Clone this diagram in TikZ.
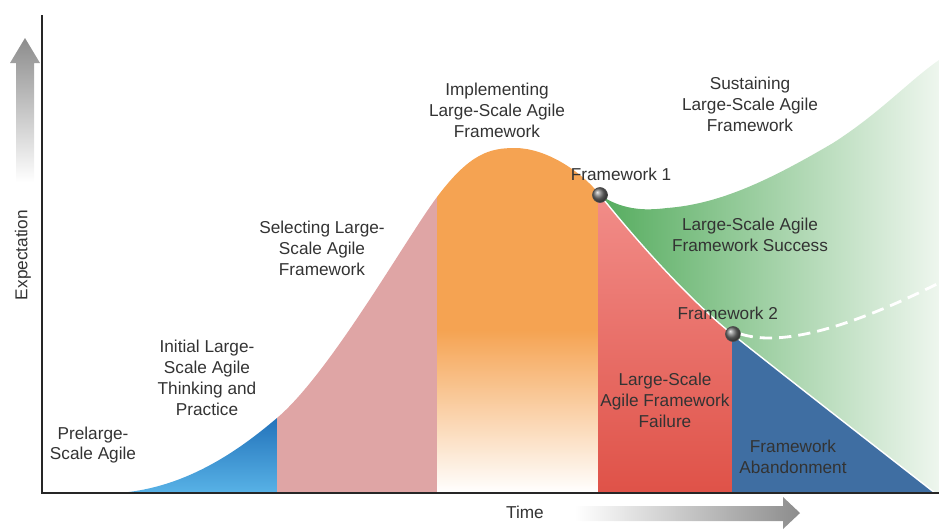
\documentclass[tikz,border=0pt]{standalone}
\usepackage{fontspec}
\setmainfont{Liberation Sans}
\usepackage{tikz}

\definecolor{txtgray}{HTML}{333333}
\definecolor{blueT}{HTML}{1D6CB6}
\definecolor{blueB}{HTML}{58B2E6}
\definecolor{pinkband}{HTML}{DFA5A5}
\definecolor{orangeband}{HTML}{F5A352}
\definecolor{redT}{HTML}{F28E8A}
\definecolor{redB}{HTML}{DF5248}
\definecolor{abandonblue}{HTML}{3F6EA2}
\definecolor{greenL}{HTML}{55AC5E}
\definecolor{greenR}{HTML}{EEF6EE}

\begin{document}
\begin{tikzpicture}
  [x=0.02cm, y=-0.02cm,
   phase/.style={text=txtgray, align=center, font=\fontsize{9.8}{11.9}\selectfont},
   fwdot/.style={circle, minimum size=8.5pt, inner sep=0, ball color=black!55, draw=black!70, thin},
   fwlabel/.style={text=txtgray, font=\fontsize{9.8}{11.9}\selectfont}]
  \useasboundingbox (0,0) rectangle (939,529);

  % bands under the curve
  \begin{scope}
    \clip (118,493) .. controls (190,488) and (245,445) .. (277,418)
      .. controls (330,373) and (405,240) .. (437,197)
      .. controls (470,153) and (490,148) .. (515,148)
      .. controls (545,148) and (580,170) .. (600,195)
      .. controls (640,245) and (690,300) .. (732,334)
      .. controls (800,388) and (880,450) .. (935,493) -- cycle;
    \shade[top color=blueT, bottom color=blueB] (118,410) rectangle (277,493);
    \fill[pinkband] (277,140) rectangle (437,493);
    \fill[orangeband] (437,140) rectangle (598,330);
    \shade[top color=orangeband, bottom color=white] (437,330) rectangle (598,493);
    \shade[top color=redT, bottom color=redB] (598,190) rectangle (732,493);
    \fill[abandonblue] (732,320) rectangle (939,493);
  \end{scope}

  % success region
  \shade[left color=greenL, right color=greenR]
    (600,195) .. controls (625,212) and (650,210) .. (667,208)
    .. controls (720,204) and (770,180) .. (833,143)
    .. controls (880,113) and (910,80) .. (939,60)
    -- (939,493) -- (935,493)
    .. controls (880,450) and (800,388) .. (732,334)
    .. controls (690,300) and (640,245) .. (600,195) -- cycle;
  \draw[white, line width=0.8pt] (600,195) .. controls (640,245) and (690,300) .. (732,334)
    .. controls (800,388) and (880,450) .. (935,493);

  % axes
  \coordinate (ytop) at (42,15);
  \coordinate (origin) at (42,493);
  \coordinate (xend) at (939,493);
  \draw[line width=1pt, black!85] (ytop) -- (origin) -- (xend);

  % gradient arrows
  \shade[top color=black!45, bottom color=white]
    (16,182) -- (16,63) -- (10,63) -- (25,38) -- (40,63) -- (34,63) -- (34,182) -- cycle;
  \shade[left color=white, right color=black!45]
    (575,506) -- (783,506) -- (783,497) -- (800,513) -- (783,529) -- (783,521) -- (575,521) -- cycle;

  \node[fwlabel, rotate=90] (expect) at (23,255) {Expectation};
  \node[fwlabel] (time) at (525,512) {Time};

  % framework points
  \node[fwdot, label={[fwlabel, label distance=0pt, xshift=12pt]above:Framework 1}] (fw1) at (600,195) {};
  \node[fwdot, label={[fwlabel, label distance=0pt, xshift=-3pt]above:Framework 2}] (fw2) at (733,334) {};
  \coordinate (dashend) at (939,283);
  \draw[white, line width=1.6pt, dash pattern=on 7pt off 4pt] (fw2.east) .. controls (775,345) and (835,335) .. (dashend);

  % phase labels
  \node[phase] (prelarge) at (93,445) {Prelarge-\\Scale Agile};
  \node[phase] (initial) at (207,378) {Initial Large-\\Scale Agile\\Thinking and\\Practice};
  \node[phase] (selecting) at (322,248) {Selecting Large-\\Scale Agile\\Framework};
  \node[phase] (implementing) at (497,110) {Implementing\\Large-Scale Agile\\Framework};
  \node[phase] (sustaining) at (750,104) {Sustaining\\Large-Scale Agile\\Framework};
  \node[phase] (success) at (750,235) {Large-Scale Agile\\Framework Success};
  \node[phase] (failure) at (665,400) {Large-Scale\\Agile Framework\\Failure};
  \node[phase] (abandon) at (793,457) {Framework\\Abandonment};
\end{tikzpicture}
\end{document}
